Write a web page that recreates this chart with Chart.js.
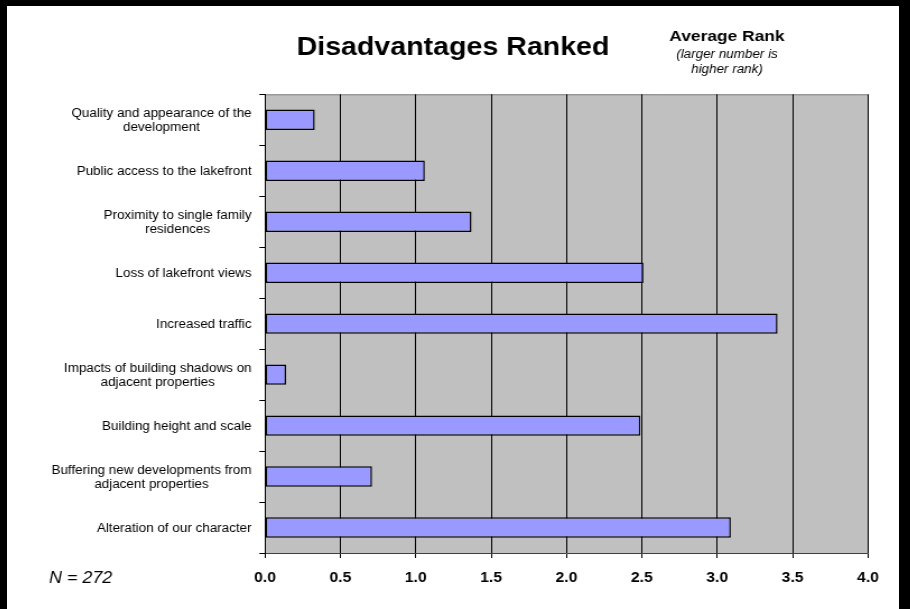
<!DOCTYPE html>
<html><head><meta charset="utf-8">
<script src="https://cdn.jsdelivr.net/npm/chart.js@4"></script>
<style>
html,body{margin:0;padding:0;background:#000;width:910px;height:609px;overflow:hidden}
#frame{position:absolute;left:7px;top:6px;width:892px;height:603px;background:#fff;overflow:hidden}
#stretch{position:absolute;left:0;top:0;width:796px;height:603px;transform:scaleX(1.120603);transform-origin:0 0}
#c{display:block}
</style></head><body>
<div id="frame"><div id="stretch"><canvas id="c" width="796" height="603"></canvas></div></div>
<script>
const categories = [
  ["Quality and appearance of the", "development"],
  ["Public access to the lakefront"],
  ["Proximity to single family", "residences"],
  ["Loss of lakefront views"],
  ["Increased traffic"],
  ["Impacts of building shadows on", "adjacent properties"],
  ["Building height and scale"],
  ["Buffering new developments from", "adjacent properties"],
  ["Alteration of our character"]
];
const averageRank = [0.33, 1.06, 1.37, 2.51, 3.40, 0.14, 2.49, 0.71, 3.09];
const xTickLabels = ["0.0", "0.5", "1.0", "1.5", "2.0", "2.5", "3.0", "3.5", "4.0"];
const titleText = "Disadvantages Ranked";
const noteTitle = "Average Rank";
const noteLines = ["(larger number is", "higher rank)"];
const sampleText = "N = 272";

const FAM = "'Liberation Sans', Arial, sans-serif";
Chart.defaults.font.family = FAM;
Chart.defaults.color = '#000';

const decor = {
  id: 'decor',
  beforeDraw(chart) {
    const {ctx, chartArea: a} = chart;
    ctx.save();
    ctx.fillStyle = '#C0C0C0';
    ctx.fillRect(a.left, a.top, a.right - a.left, a.bottom - a.top);
    ctx.strokeStyle = '#808080';
    ctx.lineWidth = 1;
    ctx.beginPath();
    ctx.moveTo(a.left, a.top + 0.5);
    ctx.lineTo(a.right, a.top + 0.5);
    ctx.stroke();
    ctx.restore();
  },
  afterDraw(chart) {
    const {ctx} = chart;
    const ys = chart.scales.y;
    ctx.save();
    ctx.fillStyle = '#000';
    ctx.font = '12px ' + FAM;
    ctx.textAlign = 'center';
    ctx.textBaseline = 'middle';
    const right = ys.right - 12;
    const lh = 13.6;
    chart.data.labels.forEach((lines, i) => {
      const y = ys.getPixelForValue(i);
      const w = Math.max(...lines.map(l => ctx.measureText(l).width));
      const cx = right - w / 2;
      lines.forEach((l, k) => ctx.fillText(l, cx, y + (k - (lines.length - 1) / 2) * lh + 1));
    });
    ctx.textBaseline = 'alphabetic';
    ctx.font = 'bold 15.5px ' + FAM;
    ctx.fillText(noteTitle, 642.5, 35);
    ctx.font = 'italic 12px ' + FAM;
    noteLines.forEach((l, k) => ctx.fillText(l, 642.5, 52 + k * 15));
    ctx.textAlign = 'left';
    ctx.textBaseline = 'middle';
    ctx.font = 'italic 16px ' + FAM;
    ctx.fillText(sampleText, 37.5, 573);
    ctx.restore();
  }
};

new Chart(document.getElementById('c'), {
  type: 'bar',
  data: {
    labels: categories,
    datasets: [{
      data: averageRank,
      backgroundColor: '#9999FF',
      borderColor: '#000',
      borderWidth: 1.5,
      borderSkipped: false,
      barPercentage: 0.4,
      categoryPercentage: 1
    }]
  },
  options: {
    indexAxis: 'y',
    responsive: false,
    animation: false,
    devicePixelRatio: 1,
    layout: {padding: {left: 27.66, right: 27.66, top: 0, bottom: 0}},
    plugins: {
      legend: {display: false},
      tooltip: {enabled: false},
      title: {
        display: true,
        text: titleText,
        color: '#000',
        font: {size: 25.5, weight: 'bold', family: FAM, lineHeight: 1.2},
        padding: {top: 27.0, bottom: 30.7}
      }
    },
    scales: {
      x: {
        type: 'linear',
        position: 'bottom',
        min: 0, max: 4,
        afterBuildTicks(scale) {
          scale.ticks = xTickLabels.map(t => ({value: parseFloat(t)}));
        },
        ticks: {
          callback: (v, i) => xTickLabels[i],
          font: {size: 14, weight: 'bold', family: FAM},
          color: '#000',
          padding: 12,
          maxRotation: 0
        },
        grid: {color: '#000', lineWidth: 1, drawTicks: true, tickLength: 5, tickColor: '#000'},
        border: {display: true, color: '#404040', width: 1},
        afterFit(scale) { scale.height = 56; }
      },
      y: {
        type: 'category',
        position: 'left',
        offset: true,
        ticks: {display: false},
        grid: {offset: true, drawOnChartArea: false, drawTicks: true, tickLength: 5, color: '#000', tickColor: '#000'},
        border: {display: true, color: '#000', width: 1},
        afterFit(scale) { scale.width = 230.23 - 27.66; }
      }
    }
  },
  plugins: [decor]
});
</script>
</body></html>
